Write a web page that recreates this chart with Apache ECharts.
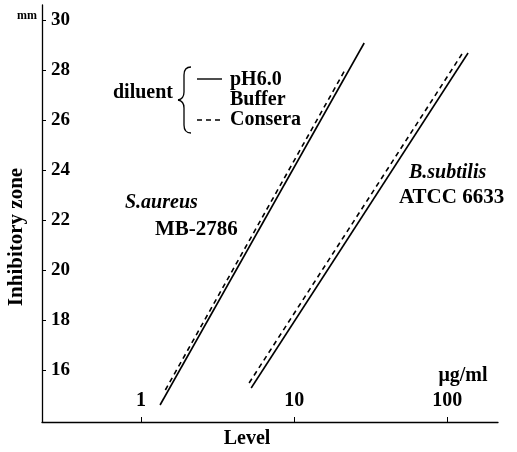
<!DOCTYPE html>
<html>
<head>
<meta charset="utf-8">
<script src="https://cdn.jsdelivr.net/npm/echarts@6/dist/echarts.min.js"></script>
<style>html,body{margin:0;padding:0;background:#fff}#c{width:517px;height:452px}</style>
</head>
<body>
<div id="c"></div>
<script>
// Values: [level (µg/ml), inhibitory zone (mm)]
const saureusBuffer = [[1.33, 14.6], [28.7, 29.08]];
const saureusConsera = [[1.44, 15.2], [21.5, 28.0]];
const bsubtilisBuffer = [[5.24, 15.28], [137, 28.68]];
const bsubtilisConsera = [[5.08, 15.48], [125, 28.64]];
const xTickValues = [1, 10, 100];
const yTickValues = [16, 18, 20, 22, 24, 26, 28, 30];

const FONT = '"Liberation Serif", "DejaVu Serif", serif';
const chart = echarts.init(document.getElementById('c'));

function lineSeries(name, data, type) {
  return {
    name: name, type: 'line', data: data, symbol: 'none', silent: true,
    lineStyle: { color: '#000', width: 1.6, type: type === 'dashed' ? [5, 4] : 'solid' }
  };
}
const braceStyle = { stroke: '#000', lineWidth: 1.3, fill: null };
function txt(x, y, text, size, extra) {
  return { type: 'text', x: x, y: y, style: Object.assign({ text: text, fontFamily: FONT, fontSize: size,
    fontWeight: 'bold', fill: '#000', verticalAlign: 'middle' }, extra || {}) };
}

chart.setOption({
  animation: false,
  backgroundColor: '#fff',
  grid: { left: 42, right: 19, top: 5, bottom: 30 },
  xAxis: {
    type: 'log', min: 0.225, max: 215, logBase: 10,
    axisLine: { lineStyle: { color: '#000', width: 1.3 } },
    axisTick: { inside: true, length: 5, customValues: xTickValues, lineStyle: { color: '#000' } },
    minorTick: { show: false },
    splitLine: { show: false },
    axisLabel: { inside: true, margin: 11, customValues: xTickValues, color: '#000',
      fontFamily: FONT, fontSize: 20, fontWeight: 'bold', formatter: v => String(Math.round(v)) }
  },
  yAxis: {
    type: 'value', min: 13.92, max: 30.6,
    axisLine: { show: true, lineStyle: { color: '#000', width: 1.3 } },
    axisTick: { show: true, inside: true, length: 4, customValues: yTickValues, lineStyle: { color: '#000' } },
    splitLine: { show: false },
    axisLabel: { inside: true, margin: 9, customValues: yTickValues, color: '#000',
      fontFamily: FONT, fontSize: 19, fontWeight: 'bold' }
  },
  series: [
    lineSeries('S.aureus pH6.0 Buffer', saureusBuffer, 'solid'),
    lineSeries('S.aureus Consera', saureusConsera, 'dashed'),
    lineSeries('B.subtilis pH6.0 Buffer', bsubtilisBuffer, 'solid'),
    lineSeries('B.subtilis Consera', bsubtilisConsera, 'dashed')
  ],
  graphic: [
    txt(17, 16, 'mm', 12),
    { type: 'text', x: 17, y: 237, rotation: Math.PI / 2, style: { text: 'Inhibitory zone', fontFamily: FONT, fontSize: 21, fontWeight: 'bold', fill: '#000', align: 'center', verticalAlign: 'middle' } },
    txt(247, 439, 'Level', 20, { align: 'center' }),
    txt(463, 376, 'μg/ml', 20, { align: 'center' }),
    txt(143, 93, 'diluent', 20, { align: 'center' }),
    { type: 'bezierCurve', shape: { x1: 191, y1: 67, cpx1: 184, cpy1: 67, x2: 184, y2: 75 }, style: braceStyle },
    { type: 'line', shape: { x1: 184, y1: 75, x2: 184, y2: 92 }, style: braceStyle },
    { type: 'bezierCurve', shape: { x1: 184, y1: 92, cpx1: 184, cpy1: 99, x2: 178, y2: 100 }, style: braceStyle },
    { type: 'bezierCurve', shape: { x1: 178, y1: 100, cpx1: 184, cpy1: 101, x2: 184, y2: 108 }, style: braceStyle },
    { type: 'line', shape: { x1: 184, y1: 108, x2: 184, y2: 125 }, style: braceStyle },
    { type: 'bezierCurve', shape: { x1: 184, y1: 125, cpx1: 184, cpy1: 133, x2: 191, y2: 133 }, style: braceStyle },
    { type: 'line', shape: { x1: 197, y1: 79, x2: 222, y2: 79 }, style: { stroke: '#000', lineWidth: 1.4 } },
    { type: 'line', shape: { x1: 197, y1: 120, x2: 222, y2: 120 }, style: { stroke: '#000', lineWidth: 1.4, lineDash: [5, 4] } },
    txt(230, 80, 'pH6.0', 20),
    txt(230, 100, 'Buffer', 20),
    txt(230, 120, 'Consera', 20),
    txt(125, 203, 'S.aureus', 20, { fontStyle: 'italic' }),
    txt(155, 230, 'MB-2786', 21),
    txt(409, 173, 'B.subtilis', 20, { fontStyle: 'italic' }),
    txt(399, 198, 'ATCC 6633', 21)
  ]
});
</script>
</body>
</html>
